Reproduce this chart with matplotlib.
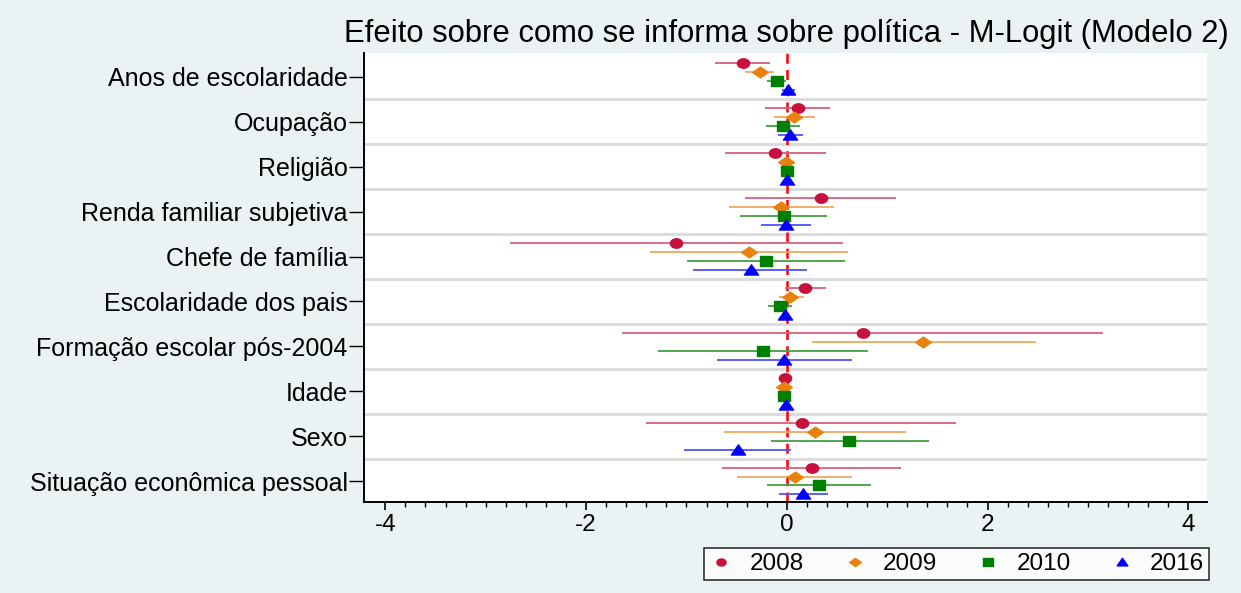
import numpy as np
import matplotlib
matplotlib.use("Agg")
import matplotlib.pyplot as plt
from matplotlib.path import Path
from matplotlib.lines import Line2D

plt.rcParams["font.family"] = ["Liberation Sans", "DejaVu Sans"]

categories = [
    "Anos de escolaridade", "Ocupação", "Religião", "Renda familiar subjetiva",
    "Chefe de família", "Escolaridade dos pais", "Formação escolar pós-2004",
    "Idade", "Sexo", "Situação econômica pessoal",
]
years = ["2008", "2009", "2010", "2016"]

# point estimates and 95% CI bounds per survey year
coef_2008 = [-0.44, 0.11, -0.12, 0.34, -1.10, 0.18, 0.76, -0.02, 0.15, 0.25]
lo_2008 = [-0.72, -0.22, -0.62, -0.42, -2.76, -0.02, -1.64, -0.04, -1.40, -0.65]
hi_2008 = [-0.17, 0.43, 0.39, 1.09, 0.56, 0.39, 3.15, 0.00, 1.69, 1.14]

coef_2009 = [-0.27, 0.07, -0.01, -0.06, -0.38, 0.03, 1.36, -0.03, 0.28, 0.08]
lo_2009 = [-0.42, -0.13, -0.05, -0.58, -1.36, -0.08, 0.25, -0.05, -0.63, -0.50]
hi_2009 = [-0.13, 0.28, 0.03, 0.47, 0.61, 0.17, 2.48, -0.01, 1.19, 0.65]

coef_2010 = [-0.10, -0.04, 0.00, -0.03, -0.21, -0.07, -0.24, -0.03, 0.62, 0.32]
lo_2010 = [-0.20, -0.21, -0.03, -0.47, -0.99, -0.19, -1.28, -0.05, -0.16, -0.20]
hi_2010 = [-0.01, 0.13, 0.03, 0.40, 0.58, 0.05, 0.81, -0.01, 1.42, 0.84]

coef_2016 = [0.01, 0.03, 0.00, -0.01, -0.36, -0.02, -0.03, -0.01, -0.49, 0.16]
lo_2016 = [-0.05, -0.09, -0.03, -0.26, -0.93, -0.05, -0.70, -0.02, -1.02, -0.08]
hi_2016 = [0.08, 0.16, 0.03, 0.24, 0.20, 0.02, 0.65, 0.00, 0.04, 0.41]

coefs = [coef_2008, coef_2009, coef_2010, coef_2016]
los = [lo_2008, lo_2009, lo_2010, lo_2016]
his = [hi_2008, hi_2009, hi_2010, hi_2016]

colors = ["#C8103C", "#E8820C", "#008000", "#0000FF"]
line_colors = ["#D8607E", "#F0A860", "#40A040", "#5050FF"]
offsets = [-0.3, -0.1, 0.1, 0.3]


def wide(verts, sx=1.3):
    # stretched marker shapes (wider than tall)
    v = np.asarray(verts, float)
    v[:, 0] *= sx
    codes = [Path.MOVETO] + [Path.LINETO] * (len(v) - 2) + [Path.CLOSEPOLY]
    return Path(v, codes)


t = np.linspace(0, 2 * np.pi, 41)
m_circle = wide(np.c_[np.cos(t), np.sin(t)])
m_diamond = wide([[0, 1], [1, 0], [0, -1], [-1, 0], [0, 1]], 1.45)
m_square = wide([[-1, -1], [1, -1], [1, 1], [-1, 1], [-1, -1]], 1.3)
m_tri = wide([[0, 1], [1, -0.8], [-1, -0.8], [0, 1]], 1.25)
markers = [m_circle, m_diamond, m_square, m_tri]
msizes = [8.8, 11.3, 8.8, 10.2]

bg = "#EAF2F3"
fig = plt.figure(figsize=(12.41, 5.93), dpi=100, facecolor=bg)
ax = fig.add_axes([0.2935, 0.1535, 0.6794, 0.7571])
ax.set_facecolor("white")

n = len(categories)
ypos = np.arange(1, n + 1)

# row separators
for b in np.arange(1.5, n, 1.0):
    ax.axhline(b, color="#DCDCDC", lw=2.2, zorder=0)

ax.axvline(0, color="#FF0000", lw=1.8, ls=(0, (4, 2.5)), zorder=1)

for k in range(4):
    y = ypos + offsets[k]
    ax.hlines(y, los[k], his[k], color=line_colors[k], lw=1.3, zorder=2)
    ax.plot(coefs[k], y, ls="none", marker=markers[k], ms=msizes[k],
            color=colors[k], mec=colors[k], zorder=3)

ax.set_xlim(-4.21, 4.19)
ax.set_ylim(n + 0.467, 0.467)
ax.set_xticks([-4, -2, 0, 2, 4])
ax.set_xticklabels(["-4", "-2", "0", "2", "4"])
ax.set_xticks(np.arange(-4, 4.01, 0.2), minor=True)
ax.set_yticks(ypos)
ax.set_yticklabels(categories)
ax.tick_params(axis="x", which="major", length=6, width=1.2, labelsize=17.5, pad=3)
ax.tick_params(axis="x", which="minor", length=3.6, width=1.0)
ax.tick_params(axis="y", length=11, width=1.0, labelsize=18, pad=1)

for s in ["top", "right"]:
    ax.spines[s].set_visible(False)
for s in ["left", "bottom"]:
    ax.spines[s].set_linewidth(1.4)

fig.text(0.634, 0.943, "Efeito sobre como se informa sobre política - M-Logit (Modelo 2)",
         ha="center", va="center", fontsize=22.3)

handles = [Line2D([], [], ls="none", marker=markers[k], ms=msizes[k] * 0.75,
                  color=colors[k]) for k in range(4)]
leg = fig.legend(handles, years, ncol=4, loc="lower right",
                 bbox_to_anchor=(1209 / 1241, 1 - 580 / 593), frameon=True,
                 fancybox=False, edgecolor="black", fontsize=17.5,
                 handletextpad=0.66, columnspacing=1.6, borderpad=0.2,
                 handlelength=1.0, borderaxespad=0)
leg.get_frame().set_linewidth(1.2)

fig.savefig("out.png", dpi=100, facecolor=bg)
